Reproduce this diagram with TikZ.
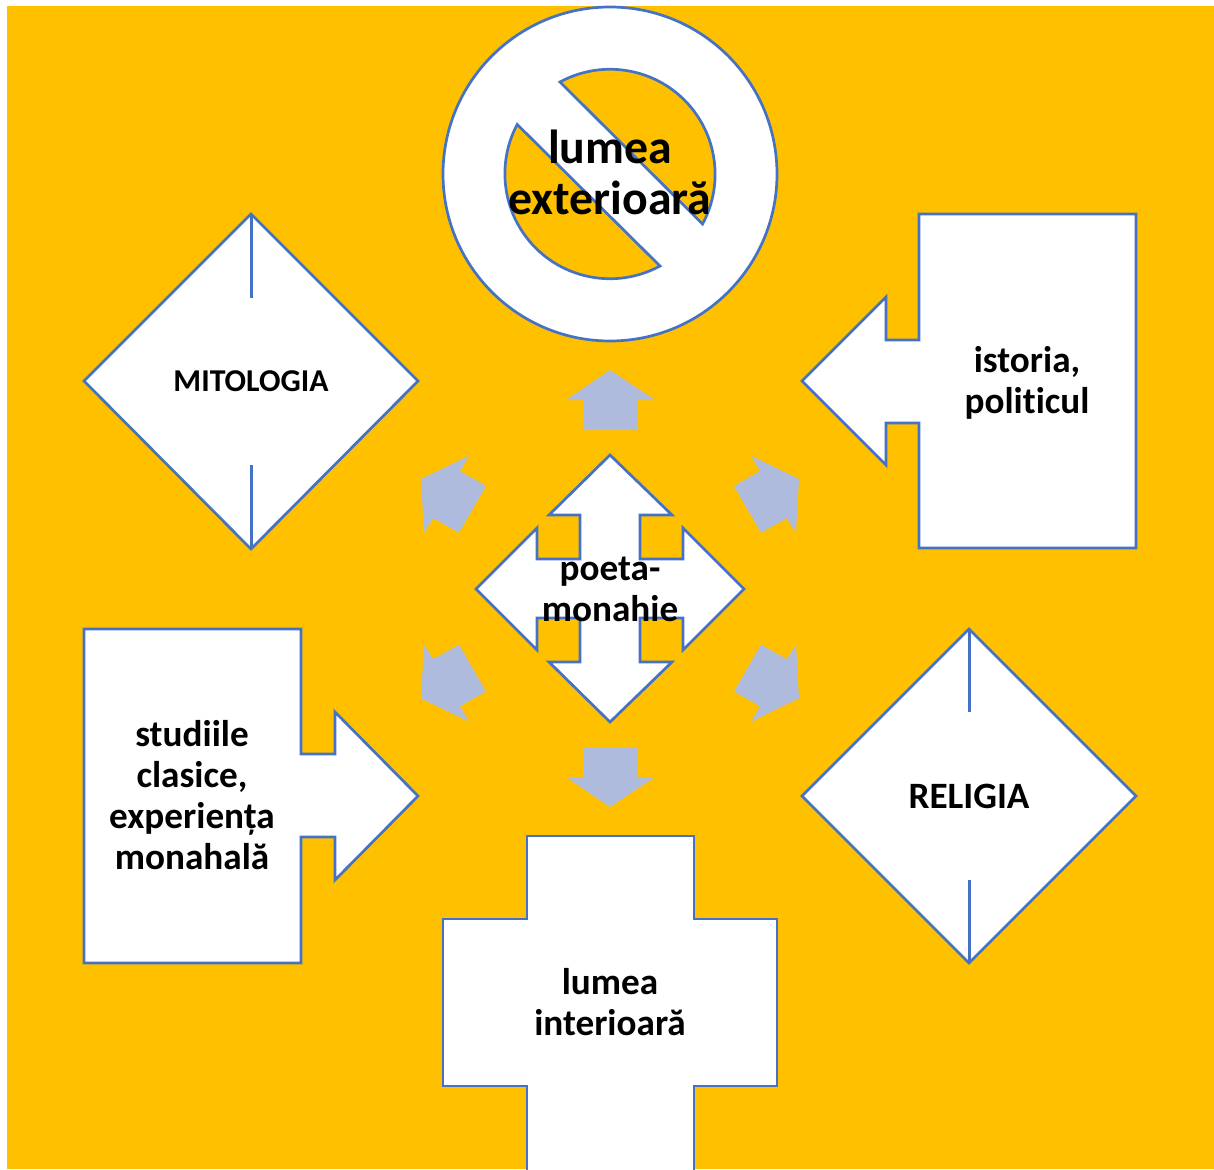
\documentclass[tikz,border=0pt]{standalone}
\usepackage{fontspec}
\setmainfont[Ligatures=NoCommon]{Carlito}
\definecolor{bgorange}{HTML}{FFC000}
\definecolor{edgeblue}{HTML}{4472C4}
\definecolor{paleblue}{HTML}{AFBBDC}
\tikzset{
  shapebox/.style={draw=edgeblue,fill=white,line width=2.7pt,line join=miter},
  hole/.style={draw=edgeblue,fill=bgorange,line width=2.7pt,line join=miter},
  smallarrow/.style={fill=paleblue,draw=none},
  tick/.style={draw=edgeblue,line width=3pt},
  lab/.style={align=center,text=black,inner sep=0pt,font=\fontsize{37.2}{41}\selectfont\bfseries},
  labbig/.style={lab,font=\fontsize{47.8}{51}\selectfont\bfseries},
  labsmall/.style={lab,font=\fontsize{31.8}{36}\selectfont\bfseries}
}
\begin{document}
\begin{tikzpicture}[x=1pt,y=-1pt]
\useasboundingbox (0,0) rectangle (1214,1169);
\clip (0,0) rectangle (1214,1169);
\fill[bgorange] (7,6) rectangle (1214,1169);
% prohibition sign
\draw[shapebox] (610,174) circle [radius=167];
\draw[hole] (560,82) arc [start angle=-118.5,end angle=28.3,radius=105] -- cycle;
\draw[hole] (660,266) arc [start angle=61.5,end angle=208,radius=105] -- cycle;
\node[labbig] (exterior) at (610,172.5) {lumea\\exterioară};
% MITOLOGIA
\draw[shapebox] (251,214) -- (418,381) -- (251,549) -- (84,381) -- cycle;
\draw[tick] (251,214) -- (251,298);
\draw[tick] (251,465) -- (251,549);
\node[labsmall] (mito) at (251,381) {MITOLOGIA};
% RELIGIA
\draw[shapebox] (969,629) -- (1136,796) -- (969,963) -- (802,796) -- cycle;
\draw[tick] (969,629) -- (969,712);
\draw[tick] (969,880) -- (969,963);
\node[lab] (religia) at (969,796) {RELIGIA};
% istoria callout
\draw[shapebox] (919,214) -- (1136,214) -- (1136,548) -- (919,548) -- (919,423) -- (886,423) -- (886,465) -- (802,381) -- (886,297) -- (886,340) -- (919,340) -- cycle;
\node[lab] (istoria) at (1027,383) {istoria,\\politicul};
% studiile callout
\draw[shapebox] (84,629) -- (301,629) -- (301,754) -- (335,754) -- (335,712) -- (418,796) -- (335,880) -- (335,837) -- (301,837) -- (301,963) -- (84,963) -- cycle;
\node[lab] (studii) at (192,795) {studiile\\clasice,\\experiența\\monahală};
% cross
\draw[shapebox] (527,836) -- (694,836) -- (694,919) -- (777,919) -- (777,1086) -- (694,1086) -- (694,1175) -- (527,1175) -- (527,1086) -- (443,1086) -- (443,919) -- (527,919) -- cycle;
\node[lab] (interior) at (610,1002) {lumea\\interioară};
% quad arrow
\draw[shapebox] (610,455) -- (672,515) -- (640,515) -- (640,559) -- (683,559) -- (683,528) -- (744,589) -- (683,650) -- (683,618) -- (640,618) -- (640,662) -- (672,662) -- (610,722) -- (549,662) -- (580,662) -- (580,618) -- (537,618) -- (537,650) -- (476,589) -- (537,528) -- (537,559) -- (580,559) -- (580,515) -- (549,515) -- cycle;
\node[lab] (poeta) at (610,589) {poeta-\\monahie};
% small arrows
\fill[smallarrow] (610,370) -- (655,400) -- (637,400) -- (637,430) -- (583,430) -- (583,400) -- (566,400) -- cycle;
\fill[smallarrow] (610,807) -- (655,777) -- (637,777) -- (637,747) -- (583,747) -- (583,777) -- (566,777) -- cycle;
\fill[smallarrow] (469,455.7) -- (421,479) -- (424,532.7) -- (433.3,518.3) -- (459,532.7) -- (486,486) -- (460,471) -- cycle;
\fill[smallarrow] (751,455.7) -- (799,479) -- (796,532.7) -- (786.7,518.3) -- (761,532.7) -- (734,486) -- (760,471) -- cycle;
\fill[smallarrow] (469,721.7) -- (421,698.4) -- (424,644.7) -- (433.3,659.1) -- (459,644.7) -- (486,691.4) -- (460,706.4) -- cycle;
\fill[smallarrow] (751,721.7) -- (799,698.4) -- (796,644.7) -- (786.7,659.1) -- (761,644.7) -- (734,691.4) -- (760,706.4) -- cycle;
\end{tikzpicture}
\end{document}
